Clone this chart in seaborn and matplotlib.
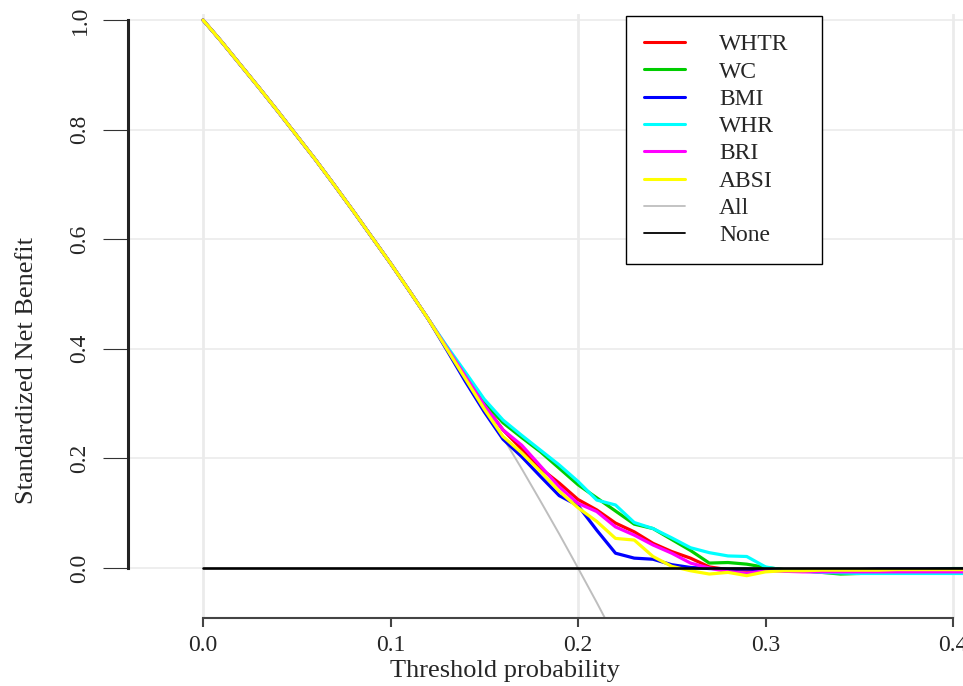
import matplotlib
matplotlib.use("Agg")
import matplotlib.pyplot as plt
from matplotlib.lines import Line2D
import pandas as pd
import seaborn as sns

# thresholds 0.00 .. 0.41 (step 0.01)
thresholds = [0.00, 0.01, 0.02, 0.03, 0.04, 0.05, 0.06, 0.07, 0.08, 0.09,
              0.10, 0.11, 0.12, 0.13, 0.14, 0.15, 0.16, 0.17, 0.18, 0.19,
              0.20, 0.21, 0.22, 0.23, 0.24, 0.25, 0.26, 0.27, 0.28, 0.29,
              0.30, 0.31, 0.32, 0.33, 0.34, 0.35, 0.36, 0.37, 0.38, 0.39,
              0.40, 0.41]

# 0.00 - 0.12: all curves lie on top of each other
common_head = [1.000, 0.960, 0.918, 0.876, 0.833, 0.789, 0.745, 0.699, 0.652,
               0.604, 0.556, 0.506, 0.455]

all_tail = [0.402, 0.349, 0.294, 0.238, 0.181, 0.122, 0.062, 0.000, -0.063, -0.128]

# 0.13 - 0.41
whtr = [0.402, 0.352, 0.298, 0.252, 0.217, 0.182, 0.155, 0.125, 0.106, 0.082,
        0.066, 0.045, 0.030, 0.018, 0.002, -0.003, -0.004, -0.004, -0.005, -0.005,
        -0.005, -0.006, -0.006, -0.006, -0.006, -0.006, -0.005, -0.005, -0.005]
wc = [0.402, 0.354, 0.303, 0.265, 0.238, 0.212, 0.182, 0.152, 0.128, 0.104,
      0.080, 0.072, 0.052, 0.032, 0.009, 0.010, 0.007, 0.001, -0.003, -0.005,
      -0.008, -0.011, -0.010, -0.008, -0.006, -0.004, -0.002, -0.001, -0.001]
bmi = [0.398, 0.340, 0.285, 0.235, 0.203, 0.167, 0.132, 0.114, 0.069, 0.027,
       0.018, 0.016, 0.006, 0.001, -0.001, -0.002, -0.002, -0.003, -0.003, -0.003,
       -0.003, -0.003, -0.003, -0.002, -0.002, -0.002, -0.002, -0.002, -0.002]
whr = [0.405, 0.357, 0.308, 0.270, 0.242, 0.215, 0.188, 0.158, 0.124, 0.115,
       0.083, 0.072, 0.055, 0.037, 0.028, 0.022, 0.021, 0.002, -0.004, -0.006,
       -0.008, -0.009, -0.010, -0.010, -0.010, -0.010, -0.010, -0.010, -0.010]
bri = [0.402, 0.350, 0.297, 0.252, 0.224, 0.186, 0.148, 0.118, 0.103, 0.075,
       0.060, 0.042, 0.027, 0.009, 0.000, -0.007, -0.010, -0.005, -0.006, -0.007,
       -0.007, -0.007, -0.007, -0.007, -0.007, -0.007, -0.007, -0.007, -0.007]
absi = [0.400, 0.345, 0.290, 0.240, 0.210, 0.176, 0.140, 0.110, 0.085, 0.054,
        0.051, 0.021, 0.003, -0.005, -0.011, -0.008, -0.014, -0.007, -0.005, -0.005,
        -0.004, -0.004, -0.004, -0.004, -0.003, -0.003, -0.003, -0.003, -0.003]

models = ["WHTR", "WC", "BMI", "WHR", "BRI", "ABSI"]
model_tails = [whtr, wc, bmi, whr, bri, absi]
colors = ["#ff0000", "#00cd00", "#0000ff", "#00ffff", "#ff00ff", "#ffff00"]

rows = []
for name, tail in zip(models, model_tails):
    for t, v in zip(thresholds, common_head + tail):
        rows.append({"threshold": t, "nb": v, "model": name})
df = pd.DataFrame(rows)

all_df = pd.DataFrame({"threshold": thresholds[:len(common_head) + len(all_tail)],
                       "nb": common_head + all_tail})

sns.set_theme(style="white")
plt.rcParams["font.family"] = ["Liberation Serif", "DejaVu Serif"]

W, H = 963, 686
fig = plt.figure(figsize=(W / 100, H / 100), dpi=100)
ax_l, ax_r, ax_t, ax_b = 128, 963, 14, 618
ax = fig.add_axes([ax_l / W, 1 - ax_b / H, (ax_r - ax_l) / W, (ax_b - ax_t) / H])

# pixel scale: 0.1 in x = 187.5 px, 1.0 in y = 548 px, origin at (203, 568)
ax.set_xlim((ax_l - 203) / 1875, (ax_r - 203) / 1875)
ax.set_ylim(-(ax_b - 568) / 548, (568 - ax_t) / 548)

for gx in [0.0, 0.2, 0.4]:
    ax.axvline(gx, color="#ebebeb", lw=2, zorder=0)
for gy in [0.0, 0.2, 0.4, 0.6, 0.8, 1.0]:
    ax.axhline(gy, color="#ebebeb", lw=1.2, zorder=0)

sns.lineplot(data=all_df, x="threshold", y="nb", color="#bebebe", lw=1.4,
             ax=ax, zorder=2, estimator=None)
sns.lineplot(data=df, x="threshold", y="nb", hue="model", hue_order=models,
             palette=dict(zip(models, colors)), lw=2.3, estimator=None,
             legend=False, ax=ax, zorder=3)
ax.plot([0.0, 0.41], [0.0, 0.0], color="black", lw=1.9, zorder=4)

ax.set_xticks([0.0, 0.1, 0.2, 0.3, 0.4])
ax.set_xticklabels(["0.0", "0.1", "0.2", "0.3", "0.4"])
ax.set_yticks([0.0, 0.2, 0.4, 0.6, 0.8, 1.0])
ax.set_yticklabels(["0.0", "0.2", "0.4", "0.6", "0.8", "1.0"], rotation=90, va="center")

for s in ["top", "right"]:
    ax.spines[s].set_visible(False)
ax.spines["left"].set_bounds(0, 1)
ax.spines["left"].set_linewidth(2.2)
ax.spines["left"].set_color("#222222")
ax.spines["bottom"].set_bounds(0, 0.4)
ax.spines["bottom"].set_linewidth(1.5)
ax.spines["bottom"].set_color("#444444")

ax.tick_params(axis="y", direction="out", length=18, width=0.8, color="#333333",
               pad=9, labelsize=17, left=True)
ax.tick_params(axis="x", direction="out", length=6.5, width=1.5, color="#444444",
               pad=6, labelsize=17, bottom=True)

ax.set_xlabel("Threshold probability", fontsize=19)
ax.set_ylabel("Standardized Net Benefit", fontsize=19)
ax.xaxis.set_label_coords((505 - ax_l) / (ax_r - ax_l), (ax_b - 660) / (ax_b - ax_t))
ax.yaxis.set_label_coords((38 - ax_l) / (ax_r - ax_l), (ax_b - 370) / (ax_b - ax_t))

handles = [Line2D([], [], color=c, lw=2.2) for c in colors]
handles += [Line2D([], [], color="#bebebe", lw=1.3), Line2D([], [], color="black", lw=1.3)]
labels = models + ["All", "None"]
lx0 = (626 - ax_l) / (ax_r - ax_l)
ly0 = (ax_b - 16) / (ax_b - ax_t)
lw_ = (822 - 626) / (ax_r - ax_l)
leg = ax.legend(handles, labels, loc="upper left", mode="expand",
                bbox_to_anchor=(lx0, ly0 - 0.4, lw_, 0.4), borderaxespad=0,
                fontsize=17, frameon=True, fancybox=False, framealpha=1,
                edgecolor="black", handlelength=1.75, handletextpad=1.45,
                labelspacing=0.245, borderpad=0.75)
leg.get_frame().set_linewidth(1.0)

fig.savefig("out.png", dpi=100)
